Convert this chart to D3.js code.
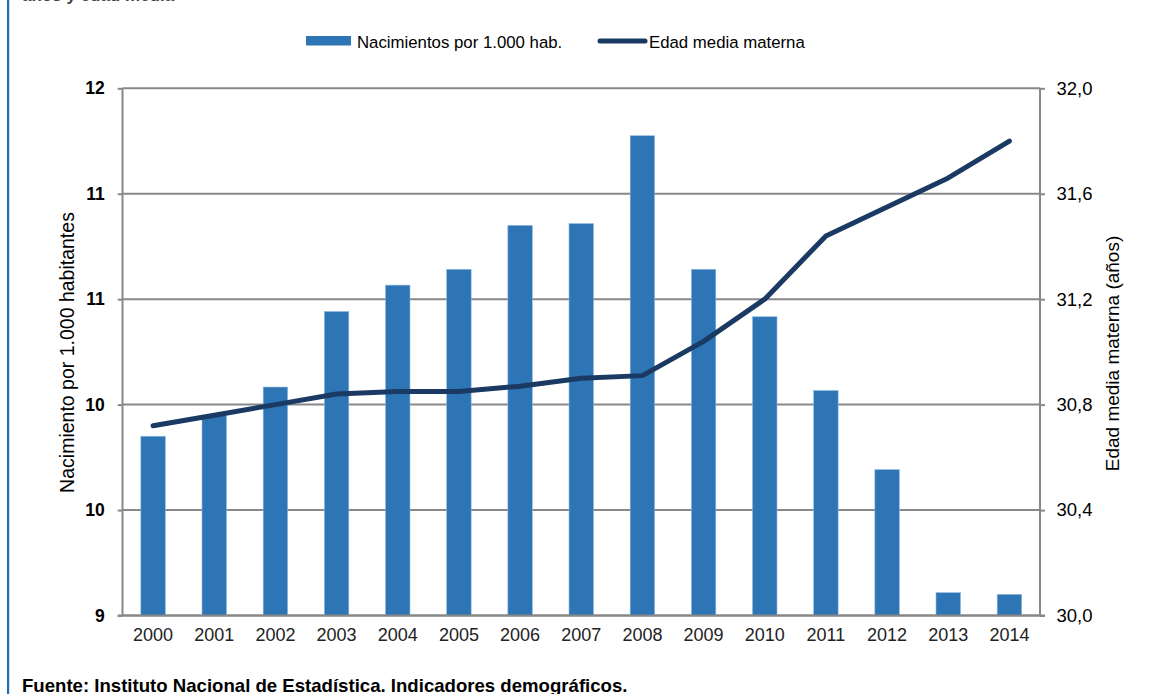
<!DOCTYPE html>
<html>
<head>
<meta charset="utf-8">
<script src="https://cdn.jsdelivr.net/npm/d3@7"></script>
<style>
  body { margin: 0; background: #fff; }
  svg { display: block; font-family: "Liberation Sans", Arial, Helvetica, sans-serif; }
</style>
</head>
<body>
<div id="container"></div>
<script>
/* CONSTANTS AND GLOBALS */
const width = 1159;
const height = 694;
const margin = {top: 88.3, right: 119, bottom: 78.5, left: 122.5};

/* DATA */
const years = ["2000","2001","2002","2003","2004","2005","2006","2007","2008","2009","2010","2011","2012","2013","2014"];
const births = [10.02, 10.14, 10.30, 10.73, 10.88, 10.97, 11.22, 11.23, 11.73, 10.97, 10.70, 10.28, 9.83, 9.13, 9.12];
const motherAge = [30.72, 30.76, 30.80, 30.84, 30.85, 30.85, 30.87, 30.90, 30.91, 31.04, 31.20, 31.44, 31.55, 31.66, 31.80];
const leftTicks = [9, 9.6, 10.2, 10.8, 11.4, 12];
const leftTickLabels = ["9", "10", "10", "11", "11", "12"];
const rightTicks = [30, 30.4, 30.8, 31.2, 31.6, 32];
const rightTickLabels = ["30,0", "30,4", "30,8", "31,2", "31,6", "32,0"];

const barColor = "#2e75b6";
const lineColor = "#1b3a63";
const gridColor = "#888";

/* SCALES */
const xScale = d3.scaleBand()
  .domain(years)
  .range([margin.left, width - margin.right])
  .paddingInner(0.6)
  .paddingOuter(0.3);

const yLeft = d3.scaleLinear()
  .domain([9, 12])
  .range([height - margin.bottom, margin.top]);

const yRight = d3.scaleLinear()
  .domain([30, 32])
  .range([height - margin.bottom, margin.top]);

/* HTML ELEMENTS */
const svg = d3.select("#container")
  .append("svg")
    .attr("width", width)
    .attr("height", height);

// left frame line of the page
svg.append("rect")
  .attr("x", 7).attr("y", 0)
  .attr("width", 2.2).attr("height", height)
  .attr("fill", "#1f6fb2");

// title line, mostly above the visible area
svg.append("text")
  .attr("x", 22).attr("y", 0.5)
  .attr("font-size", 17).attr("font-weight", "bold")
  .attr("fill", "#444")
  .text("años y edad media");

// gridlines
svg.append("g")
  .selectAll("line")
  .data(rightTicks)
  .join("line")
    .attr("x1", margin.left)
    .attr("x2", width - margin.right)
    .attr("y1", d => yRight(d))
    .attr("y2", d => yRight(d))
    .attr("stroke", gridColor)
    .attr("stroke-width", 2);

// bars
svg.append("g")
  .selectAll("rect")
  .data(births)
  .join("rect")
    .attr("x", (d, i) => xScale(years[i]))
    .attr("y", d => yLeft(d))
    .attr("width", xScale.bandwidth())
    .attr("height", d => yLeft(9) - yLeft(d))
    .attr("fill", barColor)
    .attr("stroke", "#8fb8e0")
    .attr("stroke-width", 0.6);

// axes
const leftAxis = svg.append("g")
  .attr("transform", `translate(${margin.left},0)`)
  .call(d3.axisLeft(yLeft)
    .tickValues(leftTicks)
    .tickFormat((d, i) => leftTickLabels[i])
    .tickSize(4.8)
    .tickPadding(13));

const rightAxis = svg.append("g")
  .attr("transform", `translate(${width - margin.right},0)`)
  .call(d3.axisRight(yRight)
    .tickValues(rightTicks)
    .tickFormat((d, i) => rightTickLabels[i])
    .tickSize(5)
    .tickPadding(11.5));

const bottomAxis = svg.append("g")
  .attr("transform", `translate(0,${height - margin.bottom})`)
  .call(d3.axisBottom(xScale).tickSize(0).tickPadding(13));

[leftAxis, rightAxis, bottomAxis].forEach(ax => {
  ax.select(".domain").attr("stroke", gridColor).attr("stroke-width", 2);
  ax.selectAll(".tick line").attr("stroke", gridColor).attr("stroke-width", 2);
  ax.selectAll("text").attr("font-size", 18).attr("fill", "#000").attr("font-family", null);
});
leftAxis.selectAll("text").attr("font-weight", "bold").attr("font-size", 17.5);
rightAxis.selectAll("text").attr("font-size", 18.5);
leftAxis.select(".domain").attr("d", `M0,${margin.top}V${height - margin.bottom}`);
rightAxis.select(".domain").attr("d", `M0,${margin.top}V${height - margin.bottom}`);
bottomAxis.select(".domain").attr("d", `M${margin.left - 4.8},0H${width - margin.right + 5}`);
bottomAxis.selectAll("text").attr("fill", "#222");

// line
const line = d3.line()
  .x((d, i) => xScale(years[i]) + xScale.bandwidth() / 2)
  .y(d => yRight(d));

svg.append("path")
  .datum(motherAge)
  .attr("d", line)
  .attr("fill", "none")
  .attr("stroke", lineColor)
  .attr("stroke-width", 5)
  .attr("stroke-linejoin", "round")
  .attr("stroke-linecap", "round");

// axis titles
svg.append("text")
  .attr("transform", "translate(74,352.5) rotate(-90)")
  .attr("text-anchor", "middle")
  .attr("font-size", 19.5)
  .attr("fill", "#000")
  .text("Nacimiento por 1.000 habitantes");

svg.append("text")
  .attr("transform", "translate(1119,353.5) rotate(-90)")
  .attr("text-anchor", "middle")
  .attr("font-size", 19)
  .attr("fill", "#000")
  .text("Edad media materna (años)");

// legend
const legend = svg.append("g");
legend.append("rect")
  .attr("x", 306).attr("y", 36)
  .attr("width", 45).attr("height", 9.5)
  .attr("fill", barColor);
legend.append("text")
  .attr("x", 357).attr("y", 47.5)
  .attr("font-size", 16.8).attr("fill", "#000")
  .text("Nacimientos por 1.000 hab.");
legend.append("line")
  .attr("x1", 600).attr("x2", 645)
  .attr("y1", 41).attr("y2", 41)
  .attr("stroke", lineColor)
  .attr("stroke-width", 5)
  .attr("stroke-linecap", "round");
legend.append("text")
  .attr("x", 649).attr("y", 47.5)
  .attr("font-size", 16.8).attr("fill", "#000")
  .text("Edad media materna");

// source
svg.append("text")
  .attr("x", 22).attr("y", 691.5)
  .attr("font-size", 18.6).attr("font-weight", "bold")
  .attr("fill", "#000")
  .text("Fuente: Instituto Nacional de Estadística. Indicadores demográficos.");
</script>
</body>
</html>
